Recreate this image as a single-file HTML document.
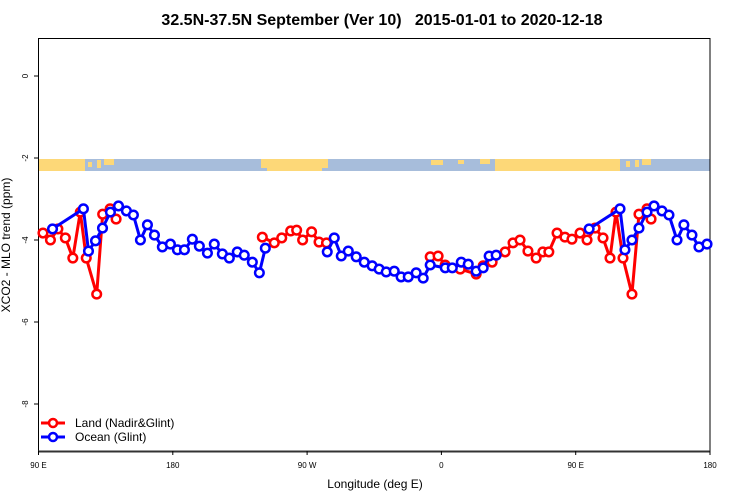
<!DOCTYPE html>
<html><head><meta charset="utf-8"><style>
body{margin:0;background:#fff;}
svg{display:block;font-family:"Liberation Sans",sans-serif;}
</style></head><body>
<svg id="chart" width="750" height="500" viewBox="0 0 750 500">
<text x="382" y="25" text-anchor="middle" font-size="16" font-weight="bold" style="white-space:pre">32.5N-37.5N September (Ver 10)   2015-01-01 to 2020-12-18</text>
<g id="strip">
<rect x="39" y="159" width="671" height="12" fill="#a7bddb"/>
<rect x="39" y="159" width="46" height="12" fill="#fdd878"/>
<rect x="88" y="162" width="4" height="5" fill="#fdd878"/>
<rect x="97" y="160" width="4" height="8" fill="#fdd878"/>
<rect x="104" y="159" width="10" height="6" fill="#fdd878"/>
<rect x="261" y="159" width="67" height="9" fill="#fdd878"/>
<rect x="267" y="168" width="55" height="3" fill="#fdd878"/>
<rect x="431" y="160" width="12" height="5" fill="#fdd878"/>
<rect x="458" y="160" width="6" height="4" fill="#fdd878"/>
<rect x="480" y="159" width="10" height="5" fill="#fdd878"/>
<rect x="495" y="159" width="125" height="12" fill="#fdd878"/>
<rect x="626" y="161" width="4" height="6" fill="#fdd878"/>
<rect x="635" y="160" width="4" height="7" fill="#fdd878"/>
<rect x="642" y="159" width="9" height="6" fill="#fdd878"/>
</g>
<g id="axes"></g>
<g id="series"></g>
<g>
<line x1="41" y1="423" x2="65" y2="423" stroke="#f00" stroke-width="3"/>
<circle cx="53" cy="423" r="4" fill="#fff" stroke="#f00" stroke-width="2.5"/>
<text x="75" y="427" font-size="12">Land (Nadir&amp;Glint)</text>
<line x1="41" y1="437" x2="65" y2="437" stroke="#00f" stroke-width="3"/>
<circle cx="53" cy="437" r="4" fill="#fff" stroke="#00f" stroke-width="2.5"/>
<text x="75" y="441" font-size="12">Ocean (Glint)</text>
</g>
<text x="375" y="488" text-anchor="middle" font-size="12">Longitude (deg E)</text>
<text transform="translate(10,245) rotate(-90)" text-anchor="middle" font-size="12">XCO2 - MLO trend (ppm)</text>
</svg>
<script>
const xTickVals=[90,180,270,360,450,540];
const xTickLabels=["90 E","180","90 W","0","90 E","180"];
const yTickVals=[-8,-6,-4,-2,0];
const landLon=[[93,98,103,108,113,118,122,129,133,138,142],[240,248,253,259,263,267,273,278,283],[352.5,357.8,362.5,372.6,383.3,388,394,402.7,408,412.7,418,423.5,428,432,437.5,442.8,447.5,452.9,457.6,463,468.3,473,477,481.7,487.7,492.4,497.8,500.5]];
const landVal=[[-3.83,-4.0,-3.73,-3.95,-4.44,-3.32,-4.44,-5.32,-3.37,-3.24,-3.49],[-3.93,-4.07,-3.95,-3.78,-3.76,-4.0,-3.80,-4.05,-4.07],[-4.41,-4.39,-4.61,-4.71,-4.83,-4.63,-4.54,-4.29,-4.07,-4.0,-4.27,-4.44,-4.29,-4.29,-3.83,-3.93,-3.98,-3.83,-4.0,-3.71,-3.95,-4.44,-3.32,-4.44,-5.32,-3.37,-3.24,-3.49]];
const oceanLon=[[99.4,120.1,123.5,128.2,132.9,138.2,143.6,148.9,153.6,158.3,163,167.7,173,178.4,183.1,187.8,193.1,197.8,203.2,207.8,213.2,217.9,223.2,227.9,233.3,238,242],[283.5,288.2,292.9,297.6,302.9,308.3,313.6,318.3,323,328.4,333,337.8,343.1,347.8,352.5,362.6,367.3,373.3,378,383.3,388,392,396.7],[459,479.7,483,487.7,492.4,497.8,502.5,507.8,512.5,517.9,522.5,527.9,532.6,538]];
const oceanVal=[[-3.73,-3.24,-4.27,-4.02,-3.71,-3.32,-3.17,-3.29,-3.39,-4.0,-3.63,-3.88,-4.17,-4.10,-4.24,-4.24,-3.98,-4.15,-4.32,-4.10,-4.34,-4.44,-4.29,-4.37,-4.54,-4.80,-4.20],[-4.29,-3.95,-4.39,-4.27,-4.41,-4.54,-4.63,-4.71,-4.78,-4.76,-4.90,-4.90,-4.80,-4.93,-4.61,-4.68,-4.68,-4.54,-4.59,-4.76,-4.68,-4.39,-4.37],[-3.73,-3.24,-4.24,-4.0,-3.71,-3.32,-3.17,-3.29,-3.39,-4.0,-3.63,-3.88,-4.17,-4.10]];
const NS="http://www.w3.org/2000/svg";
const X0=38.5,X1=710,LON0=90,LON1=540;
function xs(l){return X0+(l-LON0)*(X1-X0)/(LON1-LON0);}
function ys(v){return 76-v*41;}
function mk(tag,attrs,parent){const e=document.createElementNS(NS,tag);for(const k in attrs)e.setAttribute(k,attrs[k]);parent.appendChild(e);return e;}
const axes=document.getElementById('axes');
const frame=mk('rect',{x:38.5,y:38.5,width:671.5,height:413,fill:'none',stroke:'#000','stroke-width':1},axes);


const bax=mk('line',{x1:38,y1:451.5,x2:710,y2:451.5,stroke:'#333','stroke-width':2},axes);


xTickVals.forEach((v,i)=>{
 const x=xs(v);
 mk('line',{x1:x,y1:451,x2:x,y2:455,stroke:'#000'},axes);
 const t=mk('text',{x:x,y:468,'text-anchor':'middle','font-size':8},axes);
 t.textContent=xTickLabels[i];
 
 
});
yTickVals.forEach(v=>{
 const y=ys(v);
 mk('line',{x1:34,y1:y,x2:38.5,y2:y,stroke:'#000'},axes);
 const t=mk('text',{transform:`translate(28,${y}) rotate(-90)`,'text-anchor':'middle','font-size':8},axes);
 t.textContent=String(v);
 
 
});
const ser=document.getElementById('series');
function draw(lons,vals,color,name){
 const g=mk('g',{},ser);
 
 
 lons.forEach((seg,si)=>{
  const pts=seg.map((l,i)=>xs(l)+','+ys(vals[si][i])).join(' ');
  const pl=mk('polyline',{points:pts,fill:'none',stroke:color,'stroke-width':3,'stroke-linejoin':'round'},g);
  
  
 });
 lons.forEach((seg,si)=>seg.forEach((l,i)=>{
  const c=mk('circle',{cx:xs(l),cy:ys(vals[si][i]),r:4.3,fill:'#fff',stroke:color,'stroke-width':2.5},g);
  
  
 }));
}
draw(landLon,landVal,'#f00','land');
draw(oceanLon,oceanVal,'#00f','ocean');
</script>
</body></html>
